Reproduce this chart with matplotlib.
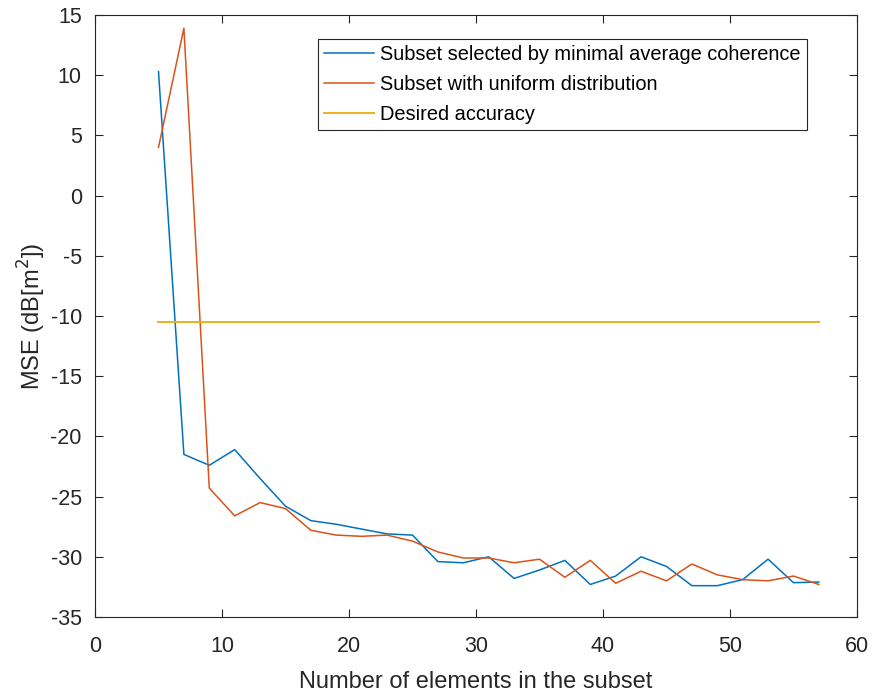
import matplotlib.pyplot as plt
import numpy as np

plt.rcParams['font.family'] = ['Liberation Sans', 'DejaVu Sans']
plt.rcParams['axes.unicode_minus'] = False

# number of elements in the subset
n_elem = np.arange(5, 58, 2)

mse_coherence = [10.3, -21.5, -22.4, -21.1, -23.5, -25.8, -27.0, -27.3, -27.7,
                 -28.1, -28.2, -30.4, -30.5, -30.0, -31.8, -31.1, -30.3, -32.3,
                 -31.6, -30.0, -30.8, -32.4, -32.4, -31.9, -30.2, -32.15, -32.1]

mse_uniform = [4.0, 13.9, -24.3, -26.6, -25.5, -26.0, -27.8, -28.2, -28.3,
               -28.2, -28.7, -29.6, -30.1, -30.1, -30.5, -30.2, -31.7, -30.3,
               -32.2, -31.2, -32.0, -30.6, -31.5, -31.9, -32.0, -31.6, -32.3]

desired = -10.5

labels = ['Subset selected by minimal average coherence',
          'Subset with uniform distribution',
          'Desired accuracy']

fig = plt.figure(figsize=(8.74, 6.93), dpi=100)
ax = fig.add_axes([0.1087, 0.1097, 0.8718, 0.8687])

ax.plot(n_elem, mse_coherence, color='#0072BD', lw=1.1, label=labels[0])
ax.plot(n_elem, mse_uniform, color='#D95319', lw=1.1, label=labels[1])
ax.plot([n_elem[0], n_elem[-1]], [desired, desired], color='#EDB120', lw=1.4, label=labels[2])

ax.set_xlim(0, 60)
ax.set_ylim(-35, 15)
ax.set_xticks(np.arange(0, 61, 10))
ax.set_yticks(np.arange(-35, 16, 5))

ax.tick_params(direction='in', length=6, width=0.8, color='#262626',
               labelsize=15.5, labelcolor='#262626', top=True, right=True)
ax.tick_params(axis='x', pad=14)
ax.tick_params(axis='y', pad=9.5)
for sp in ax.spines.values():
    sp.set_color('#262626')
    sp.set_linewidth(0.8)

ax.set_xlabel('Number of elements in the subset', fontsize=17, color='#262626', labelpad=10)
ax.set_ylabel('MSE (dB[m$^2$])', fontsize=17, color='#262626', labelpad=2)

leg = ax.legend(loc='upper right', bbox_to_anchor=(0.934, 0.96), borderaxespad=0,
                fontsize=14.4, fancybox=False, framealpha=1, edgecolor='#262626',
                handlelength=2.5, handletextpad=0.3, labelspacing=0.55, borderpad=0.3)
leg.get_frame().set_linewidth(0.8)

fig.savefig('out.png', dpi=100)
